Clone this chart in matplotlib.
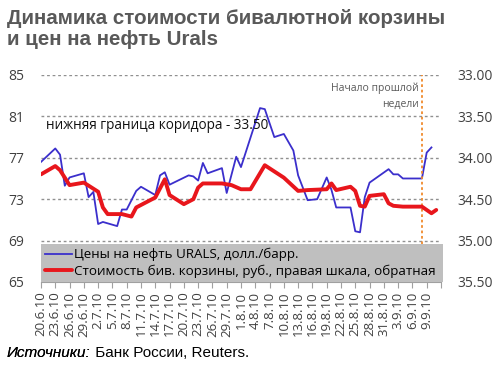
import matplotlib
matplotlib.use("Agg")
import matplotlib.pyplot as plt
import pandas as pd

# цены на нефть Urals, долл./барр.
urals_dates = ["2010-06-20", "2010-06-23", "2010-06-24", "2010-06-25", "2010-06-26",
               "2010-06-29", "2010-06-30", "2010-07-01", "2010-07-02", "2010-07-03",
               "2010-07-06", "2010-07-07", "2010-07-08", "2010-07-10", "2010-07-11",
               "2010-07-14", "2010-07-15", "2010-07-16", "2010-07-17", "2010-07-21",
               "2010-07-22", "2010-07-23", "2010-07-24", "2010-07-25", "2010-07-28",
               "2010-07-29", "2010-07-31", "2010-08-01", "2010-08-05", "2010-08-06",
               "2010-08-08", "2010-08-10", "2010-08-12", "2010-08-13", "2010-08-15",
               "2010-08-17", "2010-08-19", "2010-08-20", "2010-08-21", "2010-08-24",
               "2010-08-25", "2010-08-26", "2010-08-27", "2010-08-28", "2010-09-01",
               "2010-09-02", "2010-09-03", "2010-09-04", "2010-09-08", "2010-09-09",
               "2010-09-10"]
urals_vals = [76.6, 77.9, 77.3, 74.3, 75.1,
              75.5, 73.2, 73.7, 70.6, 70.8,
              70.4, 72.0, 72.0, 73.8, 74.2,
              73.4, 75.3, 75.6, 74.4, 75.3,
              75.2, 74.8, 76.5, 75.5, 76.0,
              73.6, 77.1, 76.1, 81.8, 81.7,
              79.0, 79.3, 77.7, 75.3, 72.9,
              73.0, 75.1, 73.9, 72.2, 72.2,
              69.9, 69.8, 73.2, 74.6, 75.9,
              75.4, 75.4, 75.0, 75.0, 77.5,
              78.0]

# стоимость бивалютной корзины, руб.
basket_dates = ["2010-06-20", "2010-06-23", "2010-06-24", "2010-06-26", "2010-06-29",
                "2010-07-02", "2010-07-03", "2010-07-04", "2010-07-07", "2010-07-09",
                "2010-07-10", "2010-07-14", "2010-07-16", "2010-07-17", "2010-07-20",
                "2010-07-22", "2010-07-23", "2010-07-24", "2010-07-28", "2010-07-30",
                "2010-08-01", "2010-08-03", "2010-08-06", "2010-08-10", "2010-08-13",
                "2010-08-15", "2010-08-19", "2010-08-20", "2010-08-21", "2010-08-24",
                "2010-08-25", "2010-08-26", "2010-08-27", "2010-08-28", "2010-08-31",
                "2010-09-01", "2010-09-02", "2010-09-04", "2010-09-08", "2010-09-09",
                "2010-09-10", "2010-09-11"]
basket_vals = [34.20, 34.10, 34.15, 34.33, 34.30,
               34.41, 34.60, 34.68, 34.68, 34.71,
               34.60, 34.48, 34.26, 34.45, 34.56,
               34.50, 34.36, 34.31, 34.31, 34.33,
               34.38, 34.38, 34.09, 34.24, 34.40,
               34.39, 34.38, 34.31, 34.39, 34.35,
               34.40, 34.58, 34.59, 34.46, 34.44,
               34.55, 34.58, 34.59, 34.59, 34.63,
               34.67, 34.63]

left_ticks = [65, 69, 73, 77, 81, 85]
right_ticks = [33.0, 33.5, 34.0, 34.5, 35.0, 35.5]
week_start = "2010-09-08"

plt.rcParams["font.family"] = ["Open Sans", "DejaVu Sans"]

fig = plt.figure(figsize=(4.98, 3.73), dpi=100)
ax = fig.add_axes([0.0823, 0.244, 0.8032, 0.555])
ax2 = ax.twinx()

ud = pd.to_datetime(urals_dates)
bd = pd.to_datetime(basket_dates)

l1, = ax.plot(ud, urals_vals, color="#3b2fcc", lw=1.3)
l2, = ax2.plot(bd, basket_vals, color="#e8161c", lw=2.8, solid_capstyle="round")

ax.set_ylim(65, 85)
ax.set_yticks(left_ticks)
ax2.set_ylim(35.5, 33.0)
ax2.set_yticks(right_ticks)
ax2.set_yticklabels([f"{v:.2f}" for v in right_ticks])

x0 = pd.Timestamp("2010-06-20")
x1 = pd.Timestamp("2010-09-12")
ax.set_xlim(x0, x1)
xt = pd.date_range(x0, x1, freq="3D")
ax.set_xticks(xt)
ax.set_xticklabels([f"{d.day}.{d.month}.{d:%y}" if d < x1 else "" for d in xt],
                   rotation=90)

for a in (ax, ax2):
    for s in ("top", "left", "right"):
        a.spines[s].set_visible(False)
    a.tick_params(axis="y", length=0, labelsize=10, colors="#404040")
ax2.spines["bottom"].set_visible(False)
ax.spines["bottom"].set_color("#a0a0a0")
ax.tick_params(axis="x", length=4, color="#a0a0a0", labelsize=9.5,
               labelcolor="#404040", pad=3)
ax.tick_params(axis="y", pad=12)
ax2.tick_params(axis="y", pad=12)

for v in left_ticks[1:]:
    ax.axhline(v, color="#909090", lw=1, ls=(0, (2, 2)), zorder=0)

ax.axvline(pd.Timestamp(week_start), color="#f08a2c", lw=1.3, ls=(0, (1.5, 1.5)))
ax.text(pd.Timestamp(week_start) - pd.Timedelta(hours=16), 84.3,
        "Начало прошлой\nнедели", ha="right", va="top", fontsize=7.5,
        color="#595959", linespacing=1.6)

ax.text(pd.Timestamp("2010-06-21"), 80.1, "нижняя граница коридора - 33.50",
        fontsize=9.8, color="#111111", va="center")

leg = ax2.legend([l1, l2],
                 ["Цены на нефть URALS, долл./барр.",
                  "Стоимость бив. корзины, руб., правая шкала, обратная"],
                 loc="lower left", bbox_to_anchor=(0, 0, 1.005, 0.19), mode="expand",
                 borderaxespad=0, fancybox=False, framealpha=1, fontsize=9.6,
                 handlelength=2.0, handletextpad=0.2, borderpad=0.3,
                 labelspacing=0.25)
leg.get_frame().set_facecolor("#bfbfbf")
leg.get_frame().set_edgecolor("none")

fig.text(0.014, 0.975, "Динамика стоимости бивалютной корзины\nи цен на нефть Urals",
         ha="left", va="top", fontsize=14.8, fontweight="bold", color="#595959",
         family=["Liberation Sans", "DejaVu Sans"], linespacing=1.1)

src = fig.text(0.014, 0.035, "Источники:", ha="left", va="bottom", fontsize=11,
               style="italic", family=["Liberation Sans", "DejaVu Sans"])
fig.add_artist(src)
ax.annotate(" Банк России, Reuters.", xy=(1, 0), xycoords=src, ha="left", va="bottom",
            fontsize=11, family=["Liberation Sans", "DejaVu Sans"],
            annotation_clip=False)

fig.savefig("out.png", dpi=100)
